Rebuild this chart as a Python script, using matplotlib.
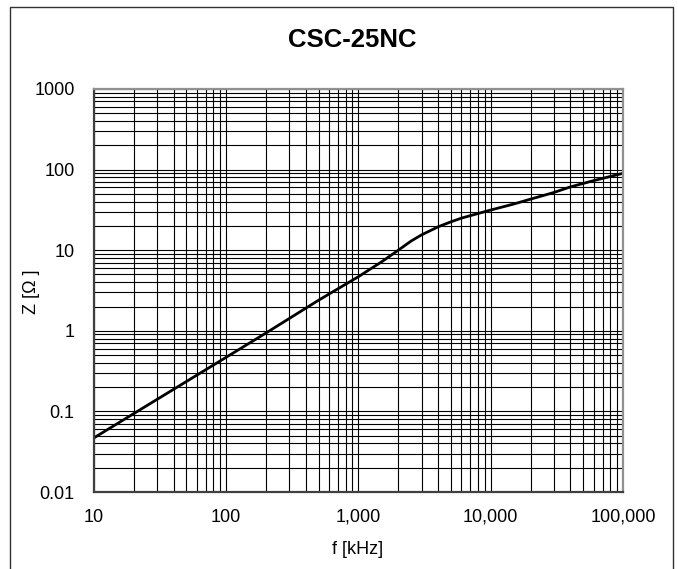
import matplotlib
matplotlib.use("Agg")
import matplotlib.pyplot as plt
from matplotlib.lines import Line2D

# Impedance curve
freq_khz = [10, 20, 50, 100, 200, 500, 1000, 1500, 2000, 2500, 3000, 4000,
            5000, 6000, 8000, 10000, 15000, 20000, 30000, 40000, 60000, 100000]
impedance = [0.047, 0.094, 0.235, 0.47, 0.94, 2.4, 4.7, 7.2, 10.0, 13.0, 15.5,
             19.5, 22.5, 25.0, 28.5, 31.5, 37.5, 43.0, 52.0, 61.0, 73.0, 90.0]

x_ticks = [10, 100, 1000, 10000, 100000]
x_tick_labels = ["10", "100", "1,000", "10,000", "100,000"]
y_ticks = [0.01, 0.1, 1, 10, 100, 1000]
y_tick_labels = ["0.01", "0.1", "1", "10", "100", "1000"]

plt.rcParams["font.family"] = ["Liberation Sans", "DejaVu Sans"]

fig = plt.figure(figsize=(6.78, 5.69), dpi=100)
ax = fig.add_axes([0.1386, 0.1353, 0.7803, 0.7083])

ax.set_xscale("log")
ax.set_yscale("log")
ax.set_xlim(10, 100000)
ax.set_ylim(0.01, 1000)

# grid like the excel chart: every decade and sub-decade line
ax.grid(which="both", color="black", linewidth=0.8)
ax.set_axisbelow(True)

ax.plot(freq_khz, impedance, color="black", linewidth=2.0, solid_capstyle="butt")

ax.set_xticks(x_ticks)
ax.set_xticklabels(x_tick_labels)
ax.set_yticks(y_ticks)
ax.set_yticklabels(y_tick_labels)
ax.tick_params(which="both", length=0, labelsize=13)
ax.tick_params(axis="x", pad=12)
ax.tick_params(axis="y", pad=14)

for side in ["left", "bottom"]:
    ax.spines[side].set_color("#404040")
    ax.spines[side].set_linewidth(1.6)
for side in ["top", "right"]:
    ax.spines[side].set_color("#909090")
    ax.spines[side].set_linewidth(1.6)

fig.text(352 / 678, 1 - 40 / 569, "CSC-25NC", ha="center", va="center",
         fontsize=18.5, fontweight="bold")
fig.text(358 / 678, 1 - 549 / 569, "f [kHz]", ha="center", va="center", fontsize=13)
fig.text(31 / 678, 1 - 292 / 569, "Z [Ω ]", ha="center", va="center",
         rotation=90, fontsize=13)

# outer chart border (left, top, right)
bx0, bx1, by1 = 10 / 678, 673 / 678, 1 - 7 / 569
fig.add_artist(Line2D([bx0, bx0, bx1, bx1], [0, by1, by1, 0],
                      transform=fig.transFigure, color="#333333", linewidth=1.0))

fig.savefig("out.png", dpi=100)
